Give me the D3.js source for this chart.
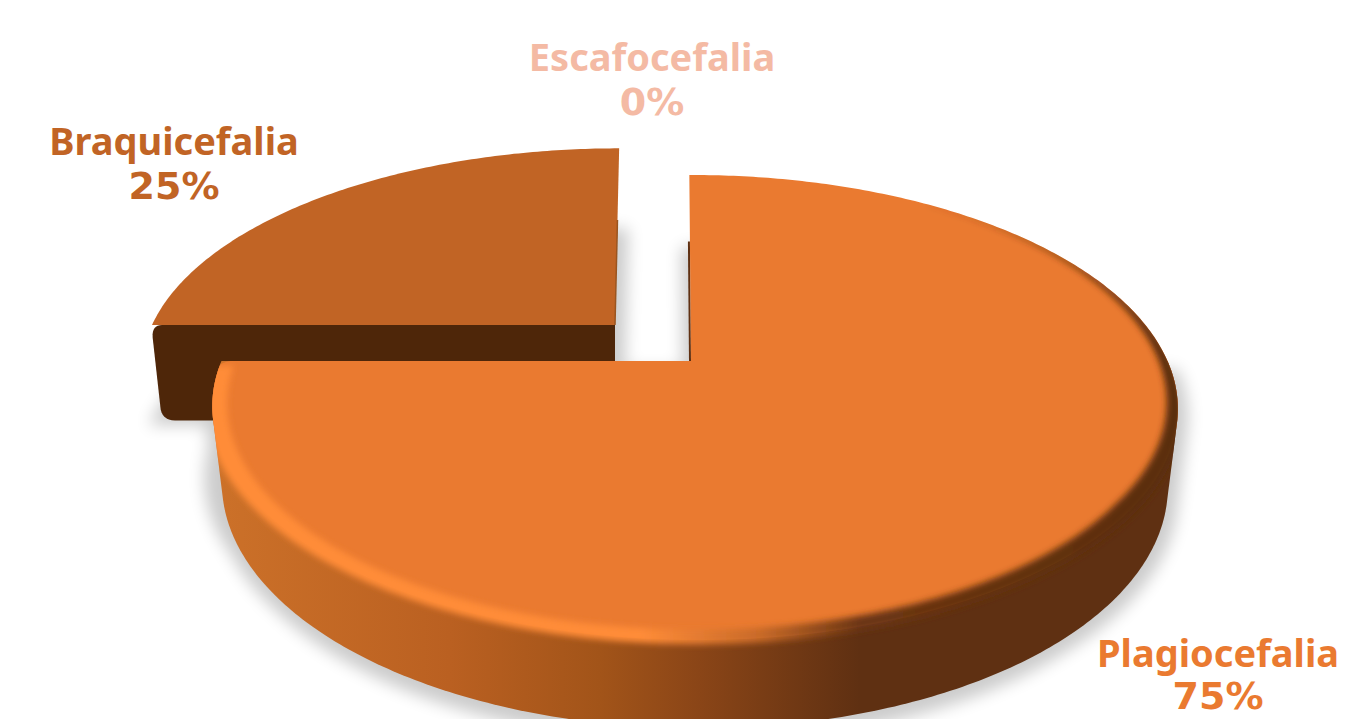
<!DOCTYPE html>
<html>
<head>
<meta charset="utf-8">
<style>
html,body{margin:0;padding:0;background:#fff;overflow:hidden}
svg{display:block}
text{font-weight:700;text-anchor:middle}
.name{font-family:"Noto Sans",sans-serif;font-size:38px}
.pct{font-family:"DejaVu Sans",sans-serif;font-size:38px}
</style>
<script src="https://cdn.jsdelivr.net/npm/d3@7/dist/d3.min.js"></script>
</head>
<body>
<svg id="chart" width="1348" height="719"></svg>
<script>
// Distribution of skull shape types
const categories = ["Plagiocefalia", "Braquicefalia", "Escafocefalia"];
const shares = [75, 25, 0];
const topColors = ["#EA7A30", "#C16425", "#F4BAA4"];

const svg = d3.select("#chart");
const defs = svg.append("defs");

const arcs = d3.pie().sort(null).value(d => d)(shares);

// Perspective view of each exploded slice: cx,cy is the apex on screen,
// a,b the in-plane radii, k/l the tilt, d the thickness, m the shrink towards the floor.
const views = [
  {cx: 691, cy: 361, a: 473, b: 223.2, k: 0.2, l: 0.0074, d: 78, m: 0.02, s: 2},
  {cx: 615, cy: 325, a: 463, b: 212, k: 0.2, l: 0, d: 97, m: 0.02, s: -5},
];

function project(view, angle, radius, h) {
  const u = Math.sin(angle) * radius, v = -Math.cos(angle) * radius;
  const w = 1 - view.k * v - view.l * u + view.m * h;
  return [view.cx + (view.a * u + view.s * v) / w, view.cy + (view.b * v + view.d * h) / w];
}

function sampleArc(view, a0, a1, h) {
  const n = Math.max(2, Math.ceil(Math.abs(a1 - a0) * 80));
  return d3.range(n + 1).map(i => project(view, a0 + (a1 - a0) * i / n, 1, h));
}

function quad(p0, c, p1) {
  return d3.range(0, 9).map(i => {
    const t = i / 8, r = 1 - t;
    return [r * r * p0[0] + 2 * r * t * c[0] + t * t * p1[0], r * r * p0[1] + 2 * r * t * c[1] + t * t * p1[1]];
  });
}

const line = d3.line();
const closed = pts => line(pts) + "Z";
const shift = (pts, dx, dy) => pts.map(p => [p[0] + dx, p[1] + dy]);

function gradient(id, stops) {
  const g = defs.append("linearGradient").attr("id", id)
    .attr("gradientUnits", "userSpaceOnUse").attr("x1", 214).attr("x2", 1177).attr("y1", 0).attr("y2", 0);
  stops.forEach(([x, c]) => g.append("stop").attr("offset", (x - 214) / 963).attr("stop-color", c));
}
gradient("wall", [[214, "#CC7129"], [450, "#BA6021"], [600, "#A25419"], [700, "#8A4517"], [860, "#5F3012"], [1177, "#5F3012"]]);
gradient("rim", [[214, "#FF8C38"], [640, "#FF8C38"], [760, "#C86A28"], [860, "#6B3512"], [1177, "#5A2D10"]]);

const blur = (id, sd) => defs.append("filter").attr("id", id)
  .attr("x", "-10%").attr("y", "-10%").attr("width", "120%").attr("height", "130%")
  .append("feGaussianBlur").attr("stdDeviation", sd);
blur("soft", 8);
blur("bevel", 3);

const main = views[0], second = views[1];
const mainStart = arcs[0].startAngle, mainEnd = arcs[0].endAngle;
const secStart = arcs[1].startAngle, secEnd = arcs[1].endAngle;

// Outlines of the two slice tops
const apexMain = project(main, 0, 0, 0);
const mainOuter = sampleArc(main, mainStart, mainEnd - 0.03, 0);
const cornerMain = project(main, mainEnd, 1, 0);
const mainFace = [apexMain, ...mainOuter, ...quad(mainOuter[mainOuter.length - 1], cornerMain, [cornerMain[0] + 12, cornerMain[1]])];
const apexSec = project(second, 0, 0, 0);
const secFace = [apexSec, ...sampleArc(second, secStart, secEnd, 0)];

// Front wall: the hull of the upper and lower front edges gives a smooth silhouette
const wallShape = d3.polygonHull([
  ...sampleArc(main, Math.PI / 2, mainEnd, 0),
  ...sampleArc(main, Math.PI / 2, mainEnd, 1),
]);

// Floor shadow under both slices
const shadows = svg.append("g").attr("fill", "#000").attr("opacity", 0.2).attr("filter", "url(#soft)");
[
  shift(secFace, 9, 80),
  shift(secFace, -3, 100),
  shift(mainFace, -8, 72),
  shift(wallShape, 10, 8),
  shift(wallShape, -7, 8),
  shift(wallShape, 0, 14),
].forEach(pts => shadows.append("path").attr("d", closed(pts)));

// Back slice: cut face first, then its top
const a = project(second, secStart, 1, 0), b = project(second, 0, 0, 0);
const bb = project(second, 0, 0, 1), ab = project(second, secStart, 1, 1);
const cutFace = [
  ...quad([a[0] + 10, a[1]], a, [a[0] + 0.6, a[1] + 12]),
  ...quad([ab[0] - 0.8, ab[1] - 14], ab, [ab[0] + 14, ab[1] + 0.5]),
  bb, b,
];
svg.append("path").attr("d", closed(cutFace)).attr("fill", "#4E2609");
svg.append("path").datum(categories[1]).attr("d", closed(secFace)).attr("fill", topColors[1]);
svg.append("path").attr("d", line([apexSec, project(second, 0, 0.55, 0)]))
  .attr("stroke", "#9A5520").attr("stroke-width", 1.5).attr("fill", "none");

// Front slice: outer wall, thin cut edge, top, and bevel around the rim
svg.append("path").attr("d", closed(wallShape)).attr("fill", "url(#wall)");
svg.append("path").attr("d", line([apexMain, project(main, 0, 0.6, 0)])).attr("stroke", "#5F3012").attr("stroke-width", 2).attr("fill", "none")
  .attr("transform", "translate(-1,0)");
svg.append("path").datum(categories[0]).attr("d", closed(mainFace)).attr("fill", topColors[0]);

// The bevel is a band along the outer edge that tapers away towards the back of the disc
const clip = defs.append("clipPath").attr("id", "bodyClip");
clip.append("path").attr("d", closed(mainFace));
clip.append("path").attr("d", closed(wallShape));
const taper = d3.scaleLinear().domain([0.6, 2.2]).range([0, 1]).clamp(true);
const bandAngles = d3.range(0.6, mainEnd - 0.02, 0.01);
const bandOuter = bandAngles.map(t => project(main, t, 1 + 0.012 * taper(t), 0));
const bandInner = bandAngles.map(t => project(main, t, 1 - 0.03 * taper(t), 0)).reverse();
svg.append("g").attr("clip-path", "url(#bodyClip)")
  .append("path")
  .attr("d", closed([...bandOuter, ...bandInner]))
  .attr("fill", "url(#rim)")
  .attr("filter", "url(#bevel)");

// Data labels: name line, then the share line underneath
const labelAnchors = [[1218, 667, 709], [174, 155, 199], [652, 71, 115]];
const labelGroup = svg.append("g");
arcs.forEach((arc, i) => {
  const [x, yName, yPct] = labelAnchors[i];
  labelGroup.append("text").attr("class", "name").attr("fill", topColors[i]).attr("x", x).attr("y", yName).text(categories[i]);
  labelGroup.append("text").attr("class", "pct").attr("fill", topColors[i]).attr("x", x).attr("y", yPct).text(arc.data + "%");
});
</script>
</body>
</html>
